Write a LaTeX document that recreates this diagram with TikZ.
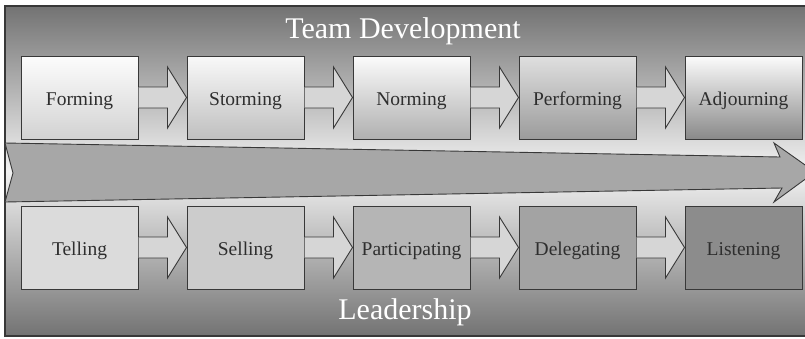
\documentclass[tikz,border=0pt]{standalone}
\usepackage{fontspec}
\setmainfont{Liberation Serif}
\usepackage{tikz}
\usetikzlibrary{positioning,calc}

\definecolor{linegray}{gray}{0.22}
\definecolor{textgray}{gray}{0.18}
\definecolor{bgdark}{gray}{0.45}
\definecolor{bglight}{gray}{0.95}
\definecolor{bigfill}{gray}{0.655}
\definecolor{arrowfill}{gray}{0.84}

\tikzset{
    stagebox/.style={draw=linegray, line width=1pt, minimum width=117pt,
        minimum height=83pt, inner sep=0pt, text height=17pt, text depth=2pt,
        text=textgray, font=\fontsize{19.5}{23}\selectfont},
    blockarrow/.style={draw=linegray, line width=0.9pt, fill=arrowfill},
    heading/.style={text=white, font=\fontsize{30}{36}\selectfont}
}

\begin{document}
\begin{tikzpicture}[x=1pt,y=-1pt,node distance=166pt,on grid]
        \useasboundingbox (0,0) rectangle (805,338);
        \begin{scope}
            \clip (0,0) rectangle (805,338);
            \draw[draw=linegray, line width=1.2pt, top color=bgdark,
                bottom color=bgdark, middle color=bglight]
                (5,6) rectangle (830,336);
            \draw[draw=linegray, line width=0.9pt, fill=bigfill]
                (5,143) -- (780,157) -- (774,143) -- (815,172) -- (774,202)
                -- (782,188) -- (5,202) -- (13,173) -- cycle;
        \end{scope}

        \node[heading] (team) at (403,31) {Team Development};
        \node[heading] (lead) at (405,312) {Leadership};

        \node[stagebox, top color=gray!2, bottom color=gray!35!white] (form) at (79.5,97.5) {Forming};
        \node[stagebox, top color=gray!5, bottom color=gray!50!white] (storm) [right=of form] {Storming};
        \node[stagebox, top color=gray!3, bottom color=gray!62!white] (norm) [right=of storm] {Norming};
        \node[stagebox, top color=gray!25, bottom color=gray!78!white] (perf) [right=of norm] {Performing};
        \node[stagebox, top color=gray!3, bottom color=gray!92!white] (adj) [right=of perf] {Adjourning};

        \node[stagebox, fill=gray!28!white] (tell) [below=150pt of form] {Telling};
        \node[stagebox, fill=gray!40!white] (sell) [below=150pt of storm] {Selling};
        \node[stagebox, fill=gray!58!white] (part) [below=150pt of norm] {Participating};
        \node[stagebox, fill=gray!72!white] (deleg) [below=150pt of perf] {Delegating};
        \node[stagebox, fill=gray!90!white] (listen) [below=150pt of adj] {Listening};

        \foreach \a/\b in {form/storm, storm/norm, norm/perf, perf/adj,
                tell/sell, sell/part, part/deleg, deleg/listen}
            \draw[blockarrow] ($(\a.east)+(0,-10.5)$) -- ($(\b.west)+(-19,-10.5)$)
                -- ($(\b.west)+(-19,-30.5)$) -- (\b.west) -- ($(\b.west)+(-19,30.5)$)
                -- ($(\b.west)+(-19,10.5)$) -- ($(\a.east)+(0,10.5)$);
    \end{tikzpicture}
\end{document}
